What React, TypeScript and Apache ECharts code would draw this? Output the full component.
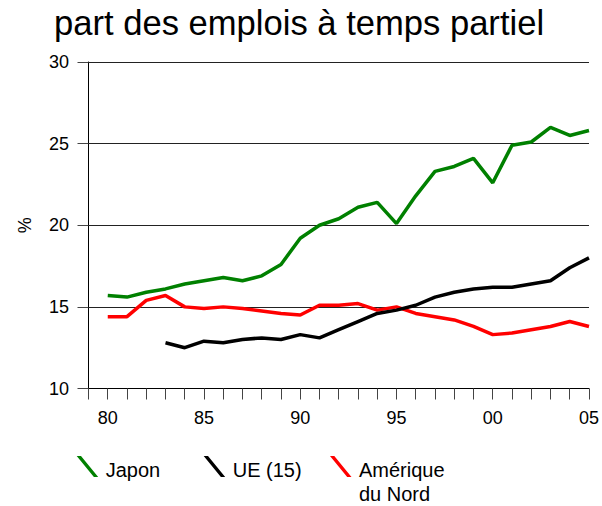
import React, { useEffect, useRef } from "react";
import * as echarts from "echarts";

const years = [1980,1981,1982,1983,1984,1985,1986,1987,1988,1989,1990,1991,1992,1993,1994,1995,1996,1997,1998,1999,2000,2001,2002,2003,2004,2005];
const japon = [15.7,15.6,15.9,16.1,16.4,16.6,16.8,16.6,16.9,17.6,19.2,20.0,20.4,21.1,21.4,20.1,21.8,23.3,23.6,24.1,22.6,24.9,25.1,26.0,25.5,25.8];
const ue15 = [null,null,null,12.8,12.5,12.9,12.8,13.0,13.1,13.0,13.3,13.1,13.6,14.1,14.6,14.8,15.1,15.6,15.9,16.1,16.2,16.2,16.4,16.6,17.4,18.0];
const ameriqueNord = [14.4,14.4,15.4,15.7,15.0,14.9,15.0,14.9,14.75,14.6,14.5,15.1,15.1,15.2,14.8,15.0,14.6,14.4,14.2,13.8,13.3,13.4,13.6,13.8,14.1,13.8];
const seriesNames = ["Japon", "UE (15)", "Amérique du Nord"];
const seriesColors = ["#008000", "#000000", "#ff0000"];
const yTicks = { min: 10, max: 30, interval: 5 };
const xRange = { min: 1979, max: 2005 };

const FONT = "'Liberation Sans', Arial, sans-serif";

function iconPath(h: number) {
  return (
    "path://M0,0 L0.05,0 L0,0.05 Z " +
    "M1,0 L5.3,0 L22.5,21 L18.2,21 Z " +
    `M24.95,${h - 0.05} L25,${h} L24.95,${h} Z`
  );
}

export default function App() {
  const ref = useRef<HTMLDivElement>(null);
  useEffect(() => {
    if (!ref.current) return;
    const chart = echarts.init(ref.current, undefined, { renderer: "svg" });
    const pairs = (vals: (number | null)[]) =>
      years.map((y, i) => [y, vals[i]]).filter((p) => p[1] !== null);
    const allData = [japon, ue15, ameriqueNord];
    const legendLefts = [75.7, 202.7, 329];
    chart.setOption({
      animation: false,
      textStyle: { fontFamily: FONT },
      title: {
        text: "part des emplois à temps partiel",
        left: 54,
        top: 5,
        padding: 0,
        textStyle: { fontFamily: FONT, fontSize: 34.6, fontWeight: "normal", color: "#000" },
      },
      grid: { left: 88.5, right: 12, top: 62, bottom: 117.5, containLabel: false },
      xAxis: {
        type: "value",
        min: xRange.min,
        max: xRange.max,
        interval: 1,
        axisLine: { show: true, lineStyle: { color: "#000", width: 1 } },
        axisTick: { show: true, length: 11, lineStyle: { color: "#444", width: 1 } },
        axisLabel: {
          fontSize: 18,
          color: "#000",
          fontFamily: FONT,
          margin: 20,
          formatter: (v: number) => (v % 5 === 0 ? String(v).slice(2) : ""),
        },
        splitLine: { show: false },
      },
      yAxis: {
        type: "value",
        min: yTicks.min,
        max: yTicks.max,
        interval: yTicks.interval,
        name: "%",
        nameLocation: "middle",
        nameRotate: 90,
        nameGap: 55,
        nameTextStyle: { fontSize: 18, color: "#000", fontFamily: FONT },
        axisLine: { show: true, lineStyle: { color: "#000", width: 1 } },
        axisTick: { show: true, length: 11, lineStyle: { color: "#444", width: 1 } },
        axisLabel: { fontSize: 18, color: "#000", fontFamily: FONT, margin: 19.5 },
        splitLine: { show: true, lineStyle: { color: "#222", width: 1 } },
      },
      legend: seriesNames.map((name, i) => ({
        data: [name],
        left: legendLefts[i],
        top: 456,
        padding: 0,
        itemWidth: 25,
        itemHeight: i === 2 ? 51 : 27,
        icon: iconPath(i === 2 ? 51 : 27),
        symbolKeepAspect: false,
        selectedMode: false,
        formatter: i === 2 ? () => "Amérique\ndu Nord" : undefined,
        textStyle: { fontSize: 20, color: "#000", fontFamily: FONT, lineHeight: 24 },
      })),
      series: seriesNames.map((name, i) => ({
        name,
        type: "line",
        data: pairs(allData[i]),
        showSymbol: false,
        symbol: "none",
        color: seriesColors[i],
        lineStyle: { color: seriesColors[i], width: 3.5 },
        z: 3 - i,
      })),
    });
    return () => chart.dispose();
  }, []);
  return (
    <div
      ref={ref}
      style={{ position: "fixed", left: 0, top: 0, width: 602, height: 506, background: "#fff" }}
    />
  );
}
